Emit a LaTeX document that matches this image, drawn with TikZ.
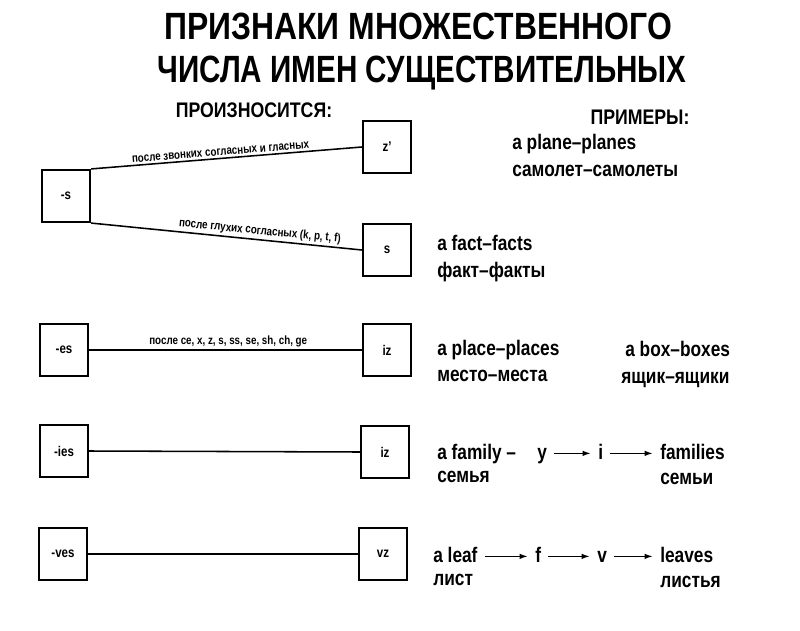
\documentclass[tikz,border=0pt]{standalone}
\usepackage{fontspec}
\setmainfont{Liberation Sans}[FakeStretch=0.82]
\newfontfamily\titlefont{Liberation Sans}[FakeStretch=0.78]
\newfontfamily\titlewide{Liberation Sans}[FakeStretch=0.84]
\newfontfamily\headfont{Liberation Sans}[FakeStretch=0.84]
\usetikzlibrary{arrows.meta, positioning, calc}

\begin{document}
\begin{tikzpicture}[
    x=0.025cm, y=-0.025cm,
    sound/.style={draw, line width=1.5pt, minimum width=1.2cm, minimum height=1.3cm, font=\bfseries\fontsize{10}{12}\selectfont},
    link/.style={line width=1.1pt},
    cond/.style={font=\bfseries\fontsize{8.5}{10}\selectfont, inner sep=1.5pt},
    big/.style={font=\titlefont\bfseries\fontsize{27}{32}\selectfont, inner sep=0pt, anchor=base},
    head/.style={font=\headfont\bfseries\fontsize{15}{18}\selectfont, inner sep=0pt, anchor=base},
    ex/.style={font=\bfseries\fontsize{15}{17}\selectfont, anchor=base west, inner sep=0pt},
    chg/.style={line width=1.1pt, -{Latex[length=6pt, width=4pt]}, shorten <=5pt, shorten >=5pt}
  ]
  \useasboundingbox (0,0) rectangle (800,630);

  % title
  \node[big, font=\titlewide\bfseries\fontsize{27}{32}\selectfont] (title1) at (418,40) {ПРИЗНАКИ МНОЖЕСТВЕННОГО};
  \node[big] (title2) at (422,83) {ЧИСЛА ИМЕН СУЩЕСТВИТЕЛЬНЫХ};
  \node[head] (pron) at (254,118) {ПРОИЗНОСИТСЯ:};
  \node[head] (prim) at (640,125) {ПРИМЕРЫ:};

  % endings and sounds
  \node[sound] (s) at (66,196) {-s};
  \node[sound] (z) at (387,147) {z'};
  \node[sound] (ss) at (387,250) {s};
  \node[sound] (es) at (64,350) {-es};
  \node[sound] (iz1) at (387,350) {iz};
  \node[sound] (ies) at (64,451) {-ies};
  \node[sound] (iz2) at (385,452) {iz};
  \node[sound] (ves) at (63,554) {-ves};
  \node[sound] (vz) at (383,554) {vz};

  \draw[link] (s.north east) -- node[cond, sloped, above, pos=0.48] {после звонких согласных и гласных} (z.west);
  \draw[link] (s.south east) -- node[cond, sloped, above, pos=0.62] {после глухих согласных (k, p, t, f)} (ss.west);
  \draw[link] (es.east) -- node[cond, above, pos=0.51] {после ce, x, z, s, ss, se, sh, ch, ge} (iz1.west);
  \draw[link] (ies.east) -- (iz2.west);
  \draw[link] (ves.east) -- (vz.west);

  % examples
  \node[ex] (plane) at (512,150) {a plane–planes};
  \node[ex] (samolet) at (512,177) {самолет–самолеты};
  \node[ex] (fact) at (437,250) {a fact–facts};
  \node[ex] (fakt) at (437,277) {факт–факты};
  \node[ex] (place) at (437,355) {a place–places};
  \node[ex] (mesto) at (437,381) {место–места};
  \node[ex] (box) at (625,356) {a box–boxes};
  \node[ex] (yashchik) at (621,383) {ящик–ящики};

  \node[ex] (family) at (437,459) {a family –};
  \node[ex] (y) at (537,459) {y};
  \node[ex] (i) at (598,459) {i};
  \node[ex] (families) at (660,459) {families};
  \node[ex] (semya) at (437,482) {семья};
  \node[ex] (semi) at (660,484) {семьи};
  \draw[chg] ($(y.base east)+(0,4pt)$) coordinate (y1) -- (y1 -| i.west);
  \draw[chg] ($(i.base east)+(0,4pt)$) coordinate (i1) -- (i1 -| families.west);

  \node[ex] (leaf) at (433,562) {a leaf};
  \node[ex] (f) at (535,562) {f};
  \node[ex] (v) at (597,562) {v};
  \node[ex] (leaves) at (660,562) {leaves};
  \node[ex] (list) at (433,585) {лист};
  \node[ex] (listya) at (660,587) {листья};
  \draw[chg] ($(leaf.base east)+(0,4pt)$) coordinate (l1) -- (l1 -| f.west);
  \draw[chg] ($(f.base east)+(0,4pt)$) coordinate (f1) -- (f1 -| v.west);
  \draw[chg] ($(v.base east)+(0,4pt)$) coordinate (v1) -- (v1 -| leaves.west);
\end{tikzpicture}
\end{document}
